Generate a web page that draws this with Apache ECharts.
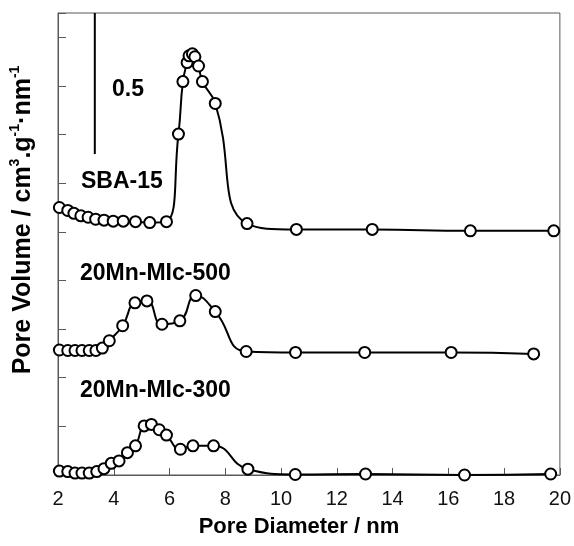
<!DOCTYPE html>
<html>
<head>
<meta charset="utf-8">
<script src="https://cdn.jsdelivr.net/npm/echarts@6/dist/echarts.min.js"></script>
<style>
  html, body { margin: 0; padding: 0; background: #fff; }
  #chart { width: 574px; height: 546px; }
</style>
</head>
<body>
<div id="chart"></div>
<script>
// Pore size distributions (BJH), curves stacked with vertical offsets.
// Y values are in plot units: one tick = 1 unit; the scale bar marks 0.5 cm3/g/nm.
const xTicks = [2, 4, 6, 8, 10, 12, 14, 16, 18, 20];

const sbaX = [2.05, 2.35, 2.57, 2.82, 3.08, 3.35, 3.65, 3.98, 4.34, 4.78, 5.29, 5.89,
              6.32, 6.48, 6.63, 6.70, 6.82, 6.91, 7.04, 7.18, 7.64, 8.78,
              10.55, 13.27, 16.79, 19.78];
const sbaY = [5.50, 5.44, 5.38, 5.33, 5.30, 5.26, 5.24, 5.22, 5.22, 5.21, 5.19, 5.21,
              7.01, 8.09, 8.48, 8.62, 8.66, 8.60, 8.41, 8.09, 7.64, 5.17,
              5.05, 5.05, 5.02, 5.02];

const mn500X = [2.05, 2.35, 2.61, 2.86, 3.12, 3.36, 3.59, 3.84, 4.32, 4.76, 5.19, 5.73,
                6.37, 6.94, 7.64, 8.75, 10.52, 13.0, 16.10, 19.06];
const mn500Y = [2.57, 2.56, 2.56, 2.56, 2.56, 2.56, 2.61, 2.76, 3.07, 3.54, 3.58, 3.10,
                3.17, 3.69, 3.36, 2.54, 2.52, 2.52, 2.52, 2.49];

const mn300X = [2.05, 2.35, 2.61, 2.86, 3.12, 3.39, 3.65, 3.91, 4.19, 4.49, 4.78, 5.09,
                5.35, 5.63, 5.89, 6.39, 6.84, 7.58, 8.81, 10.51, 13.03, 16.58, 19.67];
const mn300Y = [0.08, 0.07, 0.04, 0.04, 0.04, 0.07, 0.13, 0.24, 0.29, 0.46, 0.60, 1.01,
                1.04, 0.93, 0.82, 0.53, 0.60, 0.60, 0.12, 0.01, 0.02, 0.00, 0.02];

// Scale bar: x position and its top/bottom in plot units (0.5 cm3/g/nm)
const scaleBarX = [3.32, 3.32];
const scaleBarY = [9.5, 6.6];

const zip = (xs, ys) => xs.map((x, i) => [x, ys[i]]);

const FONT = '"Liberation Sans", Arial, sans-serif';
const AXIS_COLOR = '#595959';

function curve(name, xs, ys) {
  return {
    name: name,
    type: 'line',
    data: zip(xs, ys),
    smooth: 0.5,
    clip: false,
    symbol: 'circle',
    symbolSize: 11,
    showAllSymbol: true,
    lineStyle: { color: '#000', width: 2 },
    itemStyle: { color: '#fff', borderColor: '#000', borderWidth: 2 },
    emphasis: { disabled: true },
    z: 3
  };
}

const chart = echarts.init(document.getElementById('chart'), null, { renderer: 'canvas' });

const labelStyle = (text) => ({
  text: text, fontFamily: FONT, fontSize: 23, fontWeight: 'bold', fill: '#000', verticalAlign: 'middle'
});

chart.setOption({
  animation: false,
  backgroundColor: '#fff',
  grid: {
    left: 58, right: 13, top: 13, bottom: 71,
    show: true, borderColor: AXIS_COLOR, borderWidth: 1, backgroundColor: 'transparent'
  },
  xAxis: {
    type: 'value',
    min: xTicks[0],
    max: xTicks[xTicks.length - 1],
    interval: 2,
    name: 'Pore Diameter / nm',
    nameLocation: 'middle',
    nameGap: 41,
    nameTextStyle: { fontFamily: FONT, fontSize: 22, fontWeight: 'bold', color: '#000', padding: [0, 20, 0, 0] },
    axisLine: { lineStyle: { color: AXIS_COLOR, width: 1 } },
    axisTick: { inside: true, length: 7, lineStyle: { color: AXIS_COLOR } },
    axisLabel: { fontFamily: FONT, fontSize: 20, color: '#111', margin: 14 },
    splitLine: { show: false }
  },
  yAxis: {
    type: 'value',
    min: 0,
    max: 9.5,
    interval: 1,
    axisLine: { show: true, lineStyle: { color: AXIS_COLOR, width: 1 } },
    axisTick: { show: true, inside: true, length: 8, lineStyle: { color: AXIS_COLOR } },
    axisLabel: { show: false },
    splitLine: { show: false }
  },
  series: [
    curve('SBA-15', sbaX, sbaY),
    curve('20Mn-MIc-500', mn500X, mn500Y),
    curve('20Mn-MIc-300', mn300X, mn300Y),
    {
      name: 'scale',
      type: 'line',
      data: zip(scaleBarX, scaleBarY),
      symbol: 'none',
      clip: false,
      lineStyle: { color: '#000', width: 2 },
      emphasis: { disabled: true },
      z: 2
    }
  ],
  graphic: [
    {
      type: 'text',
      x: 22, y: 220, rotation: Math.PI / 2,
      style: {
        text: '{a|Pore Volume / cm}{s|3}{a|.g}{s|-1}{a|·nm}{s|-1}',
        x: 0, y: 0, align: 'center', verticalAlign: 'middle',
        fill: '#000',
        rich: {
          a: { fontFamily: FONT, fontSize: 25, fontWeight: 'bold', lineHeight: 28, verticalAlign: 'bottom' },
          s: { fontFamily: FONT, fontSize: 14, fontWeight: 'bold', lineHeight: 28, verticalAlign: 'top' }
        }
      }
    },
    { type: 'text', x: 112, y: 90, style: labelStyle('0.5') },
    { type: 'text', x: 81, y: 182, style: labelStyle('SBA-15') },
    { type: 'text', x: 80, y: 274, style: labelStyle('20Mn-MIc-500') },
    { type: 'text', x: 80, y: 391, style: labelStyle('20Mn-MIc-300') }
  ]
});
</script>
</body>
</html>
